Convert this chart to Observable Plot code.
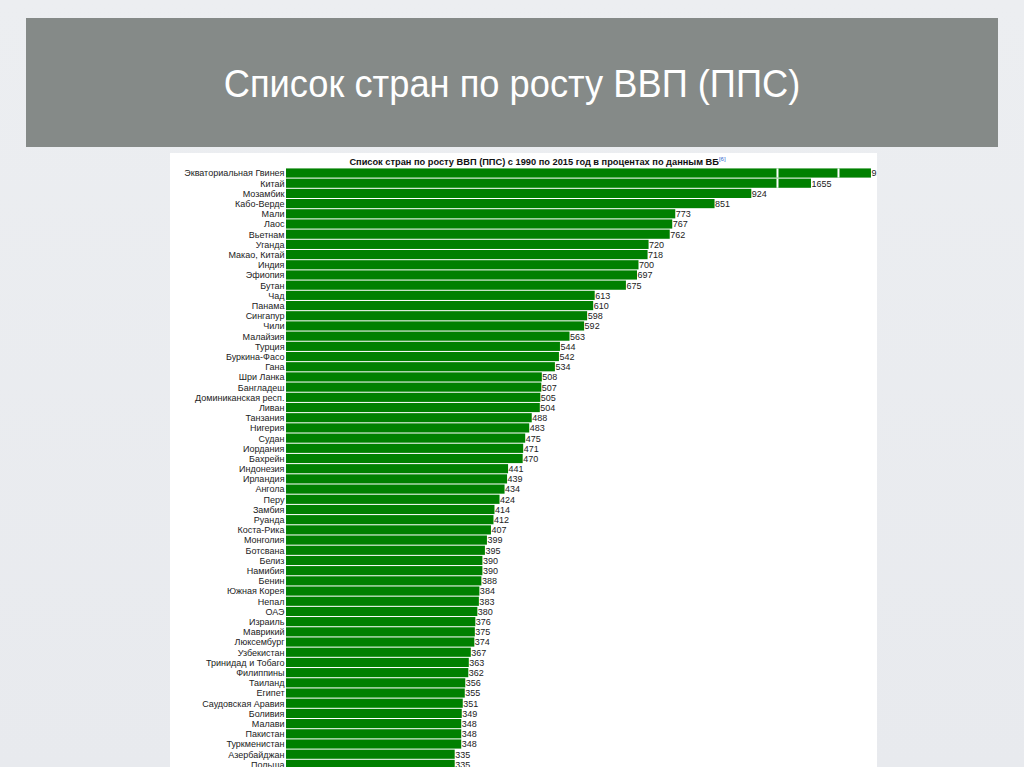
<!DOCTYPE html>
<html>
<head>
<meta charset="utf-8">
<script src="https://cdn.jsdelivr.net/npm/d3@7"></script>
<script src="https://cdn.jsdelivr.net/npm/@observablehq/plot@0.6"></script>
<style>
  html, body { margin: 0; padding: 0; }
  body { width: 1024px; height: 767px; background: linear-gradient(180deg, #eceef1 0%, #e8eaee 100%); position: relative; overflow: hidden; font-family: "Liberation Sans", Arial, sans-serif; }
  #banner { position: absolute; left: 26px; top: 18px; width: 972px; height: 129px; background: #858a88; }
  #slideTitle { position: absolute; left: 0; top: 44px; width: 972px; text-align: center; color: #fff; font-size: 39px; font-family: "Liberation Sans", Arial, sans-serif; transform: scaleX(0.93); transform-origin: 486px 0; }
  #panel { position: absolute; left: 170px; top: 153px; width: 707px; height: 614px; background: #fff; overflow: hidden; }
  #chartTitle { position: absolute; left: 0; top: 3px; width: 707px; text-align: center; font-weight: bold; font-size: 9.25px; color: #111; white-space: nowrap; padding-left: 28px; box-sizing: border-box; }
  #chartTitle sup { color: #3366cc; font-weight: normal; font-size: 6px; }
  #chart { position: absolute; left: 0; top: 0; }
  #chart svg { overflow: hidden; }
</style>
</head>
<body>
<div id="banner"><div id="slideTitle">Список стран по росту ВВП (ППС)</div></div>
<div id="panel">
  <div id="chart"></div>
  <div id="chartTitle">Список стран по росту ВВП (ППС) с 1990 по 2015 год в процентах по данным ВБ<sup>[6]</sup></div>
</div>
<script>
const countries = [
  "Экваториальная Гвинея","Китай","Мозамбик","Кабо-Верде","Мали","Лаос","Вьетнам","Уганда","Макао, Китай","Индия",
  "Эфиопия","Бутан","Чад","Панама","Сингапур","Чили","Малайзия","Турция","Буркина-Фасо","Гана",
  "Шри Ланка","Бангладеш","Доминиканская респ.","Ливан","Танзания","Нигерия","Судан","Иордания","Бахрейн","Индонезия",
  "Ирландия","Ангола","Перу","Замбия","Руанда","Коста-Рика","Монголия","Ботсвана","Белиз","Намибия",
  "Бенин","Южная Корея","Непал","ОАЭ","Израиль","Маврикий","Люксембург","Узбекистан","Тринидад и Тобаго","Филиппины",
  "Таиланд","Египет","Саудовская Аравия","Боливия","Малави","Пакистан","Туркменистан","Азербайджан","Польша"
];
const values = [
  9150,1655,924,851,773,767,762,720,718,700,
  697,675,613,610,598,592,563,544,542,534,
  508,507,505,504,488,483,475,471,470,441,
  439,434,424,414,412,407,399,395,390,390,
  388,384,383,380,376,375,374,367,363,362,
  356,355,351,349,348,348,348,335,335
];
// broken axis: value breakpoints and their compressed display positions
const breakValues = [975, 5030];
const segValues = [0, 975, 1655, 9150];
const segDisplay = [0, 975, 1042.5, 1161.6];
const displayMax = 1173.6;

const data = countries.map((c, i) => ({country: c, value: values[i]}));
const breaks = [];
breakValues.forEach(b => data.forEach(d => { if (d.value > b) breaks.push({country: d.country, at: b}); }));

const compress = d3.scaleLinear().domain(segValues).range(segDisplay);

const chart = Plot.plot({
  width: 707,
  height: 617,
  marginLeft: 116,
  marginRight: 0,
  marginTop: 14.4,
  marginBottom: 0,
  style: {fontFamily: "'Liberation Sans', Arial, sans-serif", fontSize: "9px", background: "white", overflow: "hidden"},
  x: {transform: compress, domain: [0, displayMax], axis: null},
  y: {domain: countries, padding: 0.1, round: false, label: null},
  marks: [
    Plot.barX(data, {x: "value", y: "country", fill: "#008000"}),
    Plot.tickX(breaks, {x: "at", y: "country", stroke: "white", strokeWidth: 2}),
    Plot.text(data, {x: "value", y: "country", text: d => String(d.value), textAnchor: "start", dx: 0, fill: "#222", fontSize: 9}),
    Plot.axisY({tickSize: 0, tickPadding: 2, fontSize: 9, label: null, color: "#222"})
  ]
});
document.getElementById("chart").appendChild(chart);
</script>
</body>
</html>
